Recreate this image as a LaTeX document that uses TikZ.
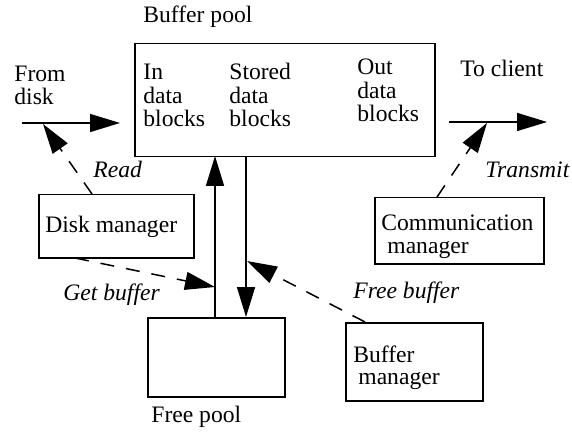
\documentclass[tikz,border=0pt]{standalone}
\usepackage{fontspec}
\setmainfont{Liberation Serif}
\usetikzlibrary{arrows.meta}
\begin{document}
\begin{tikzpicture}[x=0.5pt,y=-0.5pt,
  font=\fontsize{11.8}{11.8}\selectfont,
  box/.style={draw,line width=0.75pt,inner sep=0pt,anchor=north west},
  txt/.style={inner sep=0pt,anchor=base west,align=left},
  lbl/.style={inner sep=0pt,anchor=base west,font=\fontsize{11.8}{11.8}\selectfont\itshape},
  flow/.style={line width=0.75pt,-{Triangle[length=15pt,width=9pt]}},
  ctrl/.style={flow,dash pattern=on 7pt off 6pt}]
\useasboundingbox (0,0) rectangle (572,438);

% boxes
\node[box,minimum width=150pt,minimum height=56.5pt] (pool) at (134,43) {};
\node[box,minimum width=77.5pt,minimum height=31.5pt] (disk) at (38,194) {};
\node[box,minimum width=84.5pt,minimum height=33pt] (comm) at (374,197) {};
\node[box,minimum width=68.5pt,minimum height=39.5pt] (free) at (147,317) {};
\node[box,minimum width=68.5pt,minimum height=39pt] (bufm) at (345,322) {};

% texts (multi-line nodes are placed by the baseline of their last line)
\node[txt] (tpool) at (143,23) {Buffer pool};
\node[txt] (tin) at (143,127) {In\\data\\blocks};
\node[txt] (tstored) at (229,127) {Stored\\data\\blocks};
\node[txt] (tout) at (357,122) {Out\\data\\blocks};
\node[txt] (tfrom) at (14,105) {From\\disk};
\node[txt] (tto) at (460,77) {To client};
\node[txt] (tdisk) at (45,233) {Disk manager};
\node[txt] (tcomm1) at (381,230) {Communication};
\node[txt] (tcomm2) at (387,253) {manager};
\node[txt] (tbuf1) at (353,362) {Buffer};
\node[txt] (tbuf2) at (358,384) {manager};
\node[txt] (tfree) at (151,422) {Free pool};
\node[lbl] (lread) at (93,177) {Read};
\node[lbl] (ltrans) at (485,177) {Transmit};
\node[lbl] (lget) at (63,300) {Get buffer};
\node[lbl] (lfree) at (353,298) {Free buffer};

% connector end points
\coordinate (in0) at (22,123);
\coordinate (in1) at (120,123);
\coordinate (out0) at (449,122);
\coordinate (out1) at (547,122);
\coordinate (rd0) at (92,194);
\coordinate (rd1) at (43,124);
\coordinate (tr0) at (437,197);
\coordinate (tr1) at (487,123);
\coordinate (gb0) at (75,258);
\coordinate (gb1) at (215,287);
\coordinate (fb0) at (365,322);
\coordinate (fb1) at (247,261);
\coordinate (up0) at (215,317);
\coordinate (up1) at (215,156);
\coordinate (dn0) at (246,156);
\coordinate (dn1) at (246,317);

% data flow
\draw[flow] (in0) -- (in1);
\draw[flow] (out0) -- (out1);
\draw[flow] (up0) -- (up1);
\draw[flow] (dn0) -- (dn1);

% control flow
\draw[ctrl] (rd0) -- (rd1);
\draw[ctrl] (tr0) -- (tr1);
\draw[ctrl] (gb0) -- (gb1);
\draw[ctrl] (fb0) -- (fb1);
\end{tikzpicture}
\end{document}
